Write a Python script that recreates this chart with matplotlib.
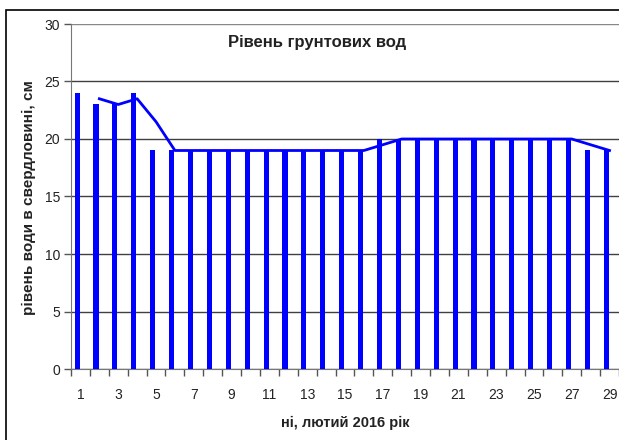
import matplotlib
matplotlib.use("Agg")
import matplotlib.pyplot as plt
from matplotlib.patches import Rectangle
import numpy as np

days = list(range(1, 30))
levels = [24, 23, 23, 24, 19, 19, 19, 19, 19, 19, 19, 19, 19, 19, 19, 19,
          20, 20, 20, 20, 20, 20, 20, 20, 20, 20, 20, 19, 19]
# 2-period moving average trend line (as in the source chart)
trend_days = days[1:]
trend = [(levels[i - 1] + levels[i]) / 2 for i in range(1, len(levels))]

title = "Рівень грунтових вод"
ylabel = "рівень води в свердловині, см"
xlabel = "ні, лютий 2016 рік"

plt.rcParams['font.family'] = ['Liberation Sans', 'DejaVu Sans']

W, H = 619, 440
fig = plt.figure(figsize=(W / 100, H / 100), dpi=100)
fig.patch.set_facecolor('white')

left, right, top, bottom = 71, 619, 24, 369
ax = fig.add_axes([left / W, 1 - bottom / H, (right - left) / W, (bottom - top) / H])

x = np.array(days, dtype=float)
bw = 0.27
ax.bar(x - 0.04 - bw / 2, levels, width=bw, color='#0000ff', zorder=3, linewidth=0)
ax.plot(trend_days, trend, color='#0000ff', lw=2, zorder=4)

ax.set_xlim(0.5, 29.5)
ax.set_ylim(0, 30)
ax.set_yticks(range(0, 31, 5))
ax.set_xticks(np.arange(1, 30, 2))
ax.set_xticks(np.arange(0.5, 30.0, 1.0), minor=True)
ax.tick_params(axis='x', which='major', length=0, pad=14, labelsize=10, colors='#222222')
ax.tick_params(axis='x', which='minor', length=5, width=1, color='#555555', direction='out')
ax.tick_params(axis='y', length=5, width=1, color='#555555', labelsize=10,
               labelcolor='#222222', pad=3)
ax.grid(axis='y', color='#404040', lw=1, zorder=1)
ax.get_ygridlines()[-1].set_color('#888888')
for s in ['top', 'right']:
    ax.spines[s].set_visible(False)
ax.spines['left'].set_color('#777777')
ax.spines['bottom'].set_color('#777777')

ax.text(0.449, 0.967, title, transform=ax.transAxes, ha='center', va='top',
        fontsize=12, fontweight='bold', color='#222222')
fig.text(29 / W, 1 - 198 / H, ylabel, rotation=90, ha='center', va='center',
         fontsize=11, fontweight='bold', color='#222222')
fig.text(345 / W, 1 - 423 / H, xlabel, ha='center', va='center',
         fontsize=10.5, fontweight='bold', color='#222222')

fig.add_artist(Rectangle((6 / W, -0.05), 1.1, 1.05 - 10 / H, transform=fig.transFigure,
                         fill=False, edgecolor='black', lw=1.2))

fig.savefig('out.png', dpi=100)
